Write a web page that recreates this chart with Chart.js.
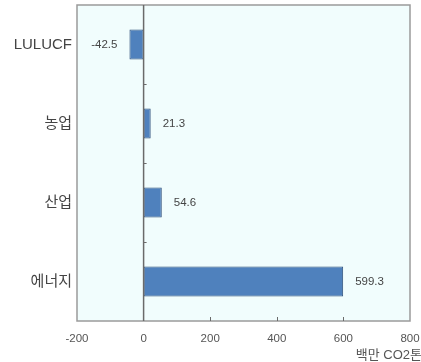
<!DOCTYPE html>
<html>
<head>
<meta charset="utf-8">
<script src="https://cdn.jsdelivr.net/npm/chart.js@4.4.1/dist/chart.umd.min.js"></script>
<style>
  html, body { margin: 0; padding: 0; background: #ffffff; }
  canvas { display: block; }
</style>
</head>
<body>
<canvas id="emissions" width="421" height="362"></canvas>
<script>
'use strict';

// sectors, top to bottom
let sectorNames = ['LULUCF', '농업', '산업', '에너지'];
// emissions, million tonnes CO2
let sectorValues = [-42.5, 21.3, 54.6, 599.3];
// x axis ticks
let axisMin = -200;
let axisMax = 800;
let axisStep = 200;
let unitLabel = '백만 CO2톤';

let fontFamily = '"Liberation Sans", Arial, "Noto Sans CJK KR", sans-serif';

// background, frame, zero line, little tick marks and value labels
const plotDecor = {
  id: 'plotDecor',
  beforeDraw(chart) {
    let ctx = chart.ctx;
    let a = chart.chartArea;
    ctx.save();
    ctx.fillStyle = '#f1fdfd';
    ctx.fillRect(a.left, a.top, a.right - a.left, a.bottom - a.top);
    ctx.restore();
  },
  afterDraw(chart) {
    let ctx = chart.ctx;
    let a = chart.chartArea;
    let x = chart.scales.x;
    let y = chart.scales.y;
    let zeroX = x.getPixelForValue(0);

    ctx.save();
    // frame
    ctx.strokeStyle = '#9a9a9a';
    ctx.lineWidth = 1.5;
    ctx.strokeRect(a.left, a.top, a.right - a.left, a.bottom - a.top);

    // zero line
    ctx.strokeStyle = '#6a6a6a';
    ctx.lineWidth = 1.5;
    ctx.beginPath();
    ctx.moveTo(zeroX, a.top);
    ctx.lineTo(zeroX, a.bottom);
    ctx.stroke();

    // ticks on the zero line between categories
    ctx.lineWidth = 1;
    ctx.beginPath();
    for (let i = 1; i < sectorNames.length; i++) {
      let yy = Math.round((y.getPixelForValue(i - 1) + y.getPixelForValue(i)) / 2) + 0.5;
      ctx.moveTo(zeroX, yy);
      ctx.lineTo(zeroX + 3, yy);
    }
    // ticks on the bottom edge
    for (let v = axisStep; v < axisMax; v += axisStep) {
      let xx = Math.round(x.getPixelForValue(v)) + 0.5;
      ctx.moveTo(xx, a.bottom);
      ctx.lineTo(xx, a.bottom - 4);
    }
    ctx.stroke();

    // value labels
    ctx.fillStyle = '#444444';
    ctx.font = '11.5px ' + fontFamily;
    ctx.textBaseline = 'middle';
    let meta = chart.getDatasetMeta(0);
    meta.data.forEach(function (bar, i) {
      let val = sectorValues[i];
      if (val < 0) {
        ctx.textAlign = 'right';
        ctx.fillText(val.toFixed(1), bar.x - 12, bar.y);
      } else {
        ctx.textAlign = 'left';
        ctx.fillText(val.toFixed(1), bar.x + 12, bar.y);
      }
    });

    // unit under the axis
    ctx.font = '13px ' + fontFamily;
    ctx.textAlign = 'right';
    ctx.fillStyle = '#555555';
    ctx.fillText(unitLabel, 422, 355);
    ctx.restore();
  }
};

const chartConfig = {
  type: 'bar',
  data: {
    labels: sectorNames,
    datasets: [{
      data: sectorValues,
      backgroundColor: '#4f81bd',
      borderColor: '#2e4f7a',
      borderWidth: 1,
      borderSkipped: false,
      categoryPercentage: 1,
      barPercentage: 0.38
    }]
  },
  options: {
    indexAxis: 'y',
    responsive: false,
    animation: false,
    layout: { padding: { top: 5, right: 11, left: 0, bottom: 0 } },
    plugins: {
      legend: { display: false },
      tooltip: { enabled: false }
    },
    scales: {
      x: {
        min: axisMin,
        max: axisMax,
        grid: { display: false, drawTicks: false },
        border: { display: false },
        ticks: {
          stepSize: axisStep,
          padding: 11,
          color: '#555555',
          font: { size: 11.5, family: fontFamily }
        },
        afterFit(scale) {
          scale.height = 41;
          scale.paddingLeft = 0;
          scale.paddingRight = 0;
        }
      },
      y: {
        grid: { display: false, drawTicks: false },
        border: { display: false },
        ticks: {
          padding: 5,
          color: '#444444',
          font: { size: 15, family: fontFamily }
        },
        afterFit(scale) {
          scale.width = 77;
          scale.paddingTop = 0;
          scale.paddingBottom = 0;
        }
      }
    }
  },
  plugins: [plotDecor]
};

new Chart(document.getElementById('emissions'), chartConfig);
</script>
</body>
</html>
